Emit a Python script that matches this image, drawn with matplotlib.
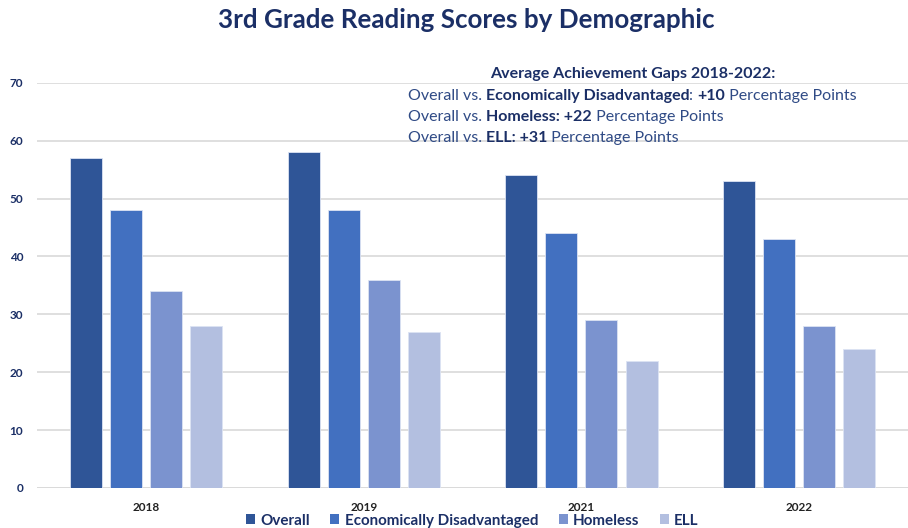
import matplotlib
matplotlib.use("Agg")
import matplotlib.pyplot as plt
import numpy as np
from matplotlib.patches import Patch

years = ["2018", "2019", "2021", "2022"]
groups = ["Overall", "Economically Disadvantaged", "Homeless", "ELL"]
overall = [57, 58, 54, 53]
econ_dis = [48, 48, 44, 43]
homeless = [34, 36, 29, 28]
ell = [28, 27, 22, 24]

colors = ["#2f5597", "#4270c0", "#7b93cf", "#b3bfe0"]
navy = "#1b2f66"
text_blue = "#2f4a85"

plt.rcParams["font.family"] = ["Lato", "DejaVu Sans"]


def rich_line(fig, x, y, parts, size):
    # draw (text, bold) pieces one after another on a single line
    renderer = fig.canvas.get_renderer()
    inv = fig.transFigure.inverted()
    for s, bold in parts:
        t = fig.text(x, y, s, fontsize=size, fontweight="bold" if bold else "normal",
                     color=navy if bold else text_blue, ha="left", va="center")
        bb = t.get_window_extent(renderer)
        x = inv.transform((bb.x1, bb.y0))[0]


def main() -> None:
    fig = plt.figure(figsize=(9.08, 5.28), dpi=100)
    ax = fig.add_axes([0.041, 0.076, 0.959, 0.767])

    series = [overall, econ_dis, homeless, ell]
    x = np.arange(len(years))
    width = 0.147
    step = 0.184
    for i, (vals, c) in enumerate(zip(series, colors)):
        ax.bar(x + (i - 1.5) * step, vals, width, color=c, label=groups[i],
               edgecolor="#dce3f3", linewidth=0.6, zorder=3)

    ax.set_xlim(-0.5, 3.5)
    ax.set_ylim(0, 70)
    ax.set_yticks(range(0, 71, 10))
    ax.yaxis.grid(True, color="#d9d9d9", linewidth=1.2, zorder=0)
    for sp in ax.spines.values():
        sp.set_visible(False)
    ax.axhline(0, color="#d9d9d9", linewidth=1.2, zorder=1)
    ax.tick_params(axis="y", length=0, pad=10, labelsize=8.5, labelcolor=navy)
    for lbl in ax.get_yticklabels():
        lbl.set_fontweight("bold")
    ax.set_xticks(x)
    ax.set_xticklabels(years, fontsize=8.5, fontweight="bold", color="#222222")
    ax.tick_params(axis="x", length=0, pad=10)

    fig.text(0.514, 0.962, "3rd Grade Reading Scores by Demographic", ha="center",
             va="center", fontsize=18.7, fontweight="bold", color=navy)

    fs = 11.5
    fig.text(0.697, 0.859, "Average Achievement Gaps 2018-2022:", ha="center",
             va="center", fontsize=fs, fontweight="bold", color=navy)
    x0 = 0.449
    rich_line(fig, x0, 0.819, [("Overall vs. ", False),
                               ("Economically Disadvantaged", True), (": ", False),
                               ("+10", True), (" Percentage Points", False)], fs)
    rich_line(fig, x0, 0.779, [("Overall vs. ", False), ("Homeless: +22", True),
                               (" Percentage Points", False)], fs)
    rich_line(fig, x0, 0.739, [("Overall vs. ", False), ("ELL: +31", True),
                               (" Percentage Points", False)], fs)

    handles = [Patch(facecolor=c, edgecolor="none") for c in colors]
    leg = fig.legend(handles, groups, loc="center", bbox_to_anchor=(0.52, 0.014),
                     ncol=4, frameon=False, fontsize=10.9, handlelength=0.6,
                     handleheight=0.6, handletextpad=0.35, columnspacing=1.35,
                     borderpad=0)
    for t in leg.get_texts():
        t.set_fontweight("bold")
        t.set_color(navy)

    fig.savefig("out.png", dpi=100)
    plt.close(fig)


if __name__ == "__main__":
    main()
